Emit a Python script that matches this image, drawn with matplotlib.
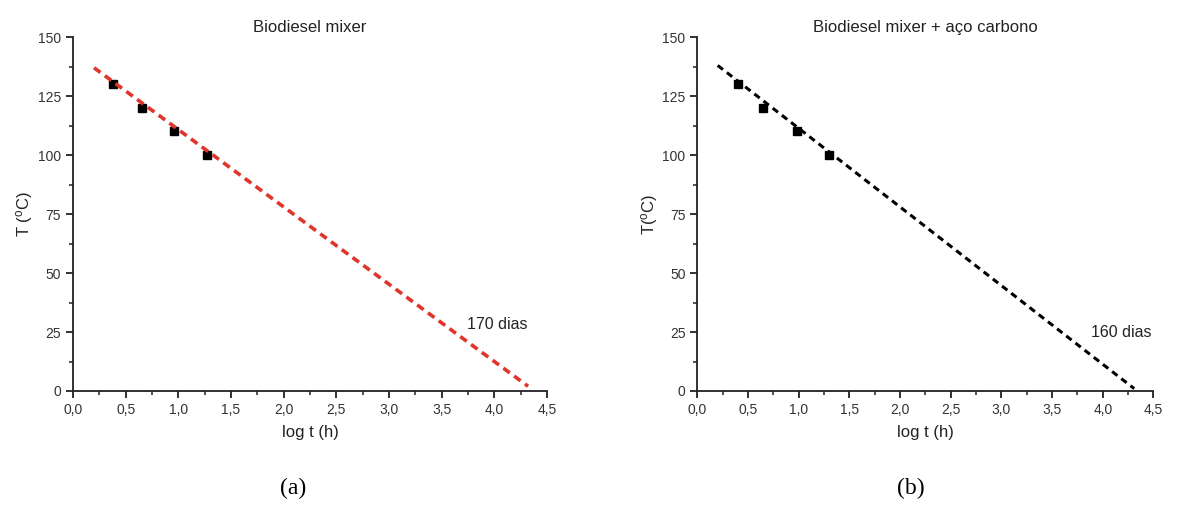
import numpy as np
import matplotlib
matplotlib.use('Agg')
import matplotlib.pyplot as plt
from matplotlib.ticker import MultipleLocator, FuncFormatter

plt.rcParams['font.family'] = ['Liberation Sans', 'DejaVu Sans']

# dados (a) Biodiesel mixer
log_t_a = [0.38, 0.655, 0.96, 1.27]
temp_a = [130, 120, 110, 100]
fit_x_a = [0.20, 4.32]
fit_y_a = [137.0, 2.0]

# dados (b) Biodiesel mixer + aço carbono
log_t_b = [0.40, 0.65, 0.98, 1.30]
temp_b = [130, 120, 110, 100]
fit_x_b = [0.20, 4.31]
fit_y_b = [138.0, 1.0]

fig = plt.figure(figsize=(11.81, 5.07), dpi=100)
ax1 = fig.add_axes([0.0618, 0.2288, 0.4014, 0.698])
ax2 = fig.add_axes([0.5905, 0.2288, 0.3862, 0.698])

virgula = FuncFormatter(lambda v, p: ('%.1f' % v).replace('.', ','))

def estilo(ax, titulo, ylabel):
    ax.set_xlim(0, 4.5)
    ax.set_ylim(0, 150)
    for s in ['top', 'right']:
        ax.spines[s].set_visible(False)
    for s in ['left', 'bottom']:
        ax.spines[s].set_linewidth(1.3)
        ax.spines[s].set_color('#222222')
    ax.xaxis.set_major_locator(MultipleLocator(0.5))
    ax.xaxis.set_minor_locator(MultipleLocator(0.25))
    ax.yaxis.set_major_locator(MultipleLocator(25))
    ax.yaxis.set_minor_locator(MultipleLocator(12.5))
    ax.xaxis.set_major_formatter(virgula)
    ax.tick_params(which='major', direction='out', length=5, width=1.3,
                   labelsize=10, color='#222222', labelcolor='#333333')
    ax.tick_params(which='minor', direction='out', length=3, width=1.1,
                   color='#222222')
    ax.set_title(titulo, fontsize=12, color='#222222', pad=4)
    ax.set_xlabel('log t (h)', fontsize=12, color='#222222', labelpad=6)
    ax.set_ylabel(ylabel, fontsize=12, color='#222222', labelpad=2)

estilo(ax1, 'Biodiesel mixer', r'T ($\mathregular{^o}$C)')
ax1.plot(log_t_a, temp_a, 's', color='black', ms=6, zorder=2)
ax1.plot(fit_x_a, fit_y_a, '--', color='#e0352b', lw=2.6, dashes=(2.2, 1.5), zorder=3)
ax1.text(3.74, 28, '170 dias', fontsize=11.5, color='#222222', va='center')

estilo(ax2, 'Biodiesel mixer + aço carbono', r'T($\mathregular{^o}$C)')
ax2.plot(log_t_b, temp_b, 's', color='black', ms=6, zorder=2)
ax2.plot(fit_x_b, fit_y_b, '--', color='black', lw=2.2, dashes=(2.2, 1.6), zorder=3)
ax2.text(3.88, 25, '160 dias', fontsize=11.5, color='#222222', va='center')

fig.text(0.248, 0.037, '(a)', fontsize=17, family='Liberation Serif', ha='center', va='center')
fig.text(0.771, 0.037, '(b)', fontsize=17, family='Liberation Serif', ha='center', va='center')

fig.savefig('out.png', dpi=100, facecolor='white')
